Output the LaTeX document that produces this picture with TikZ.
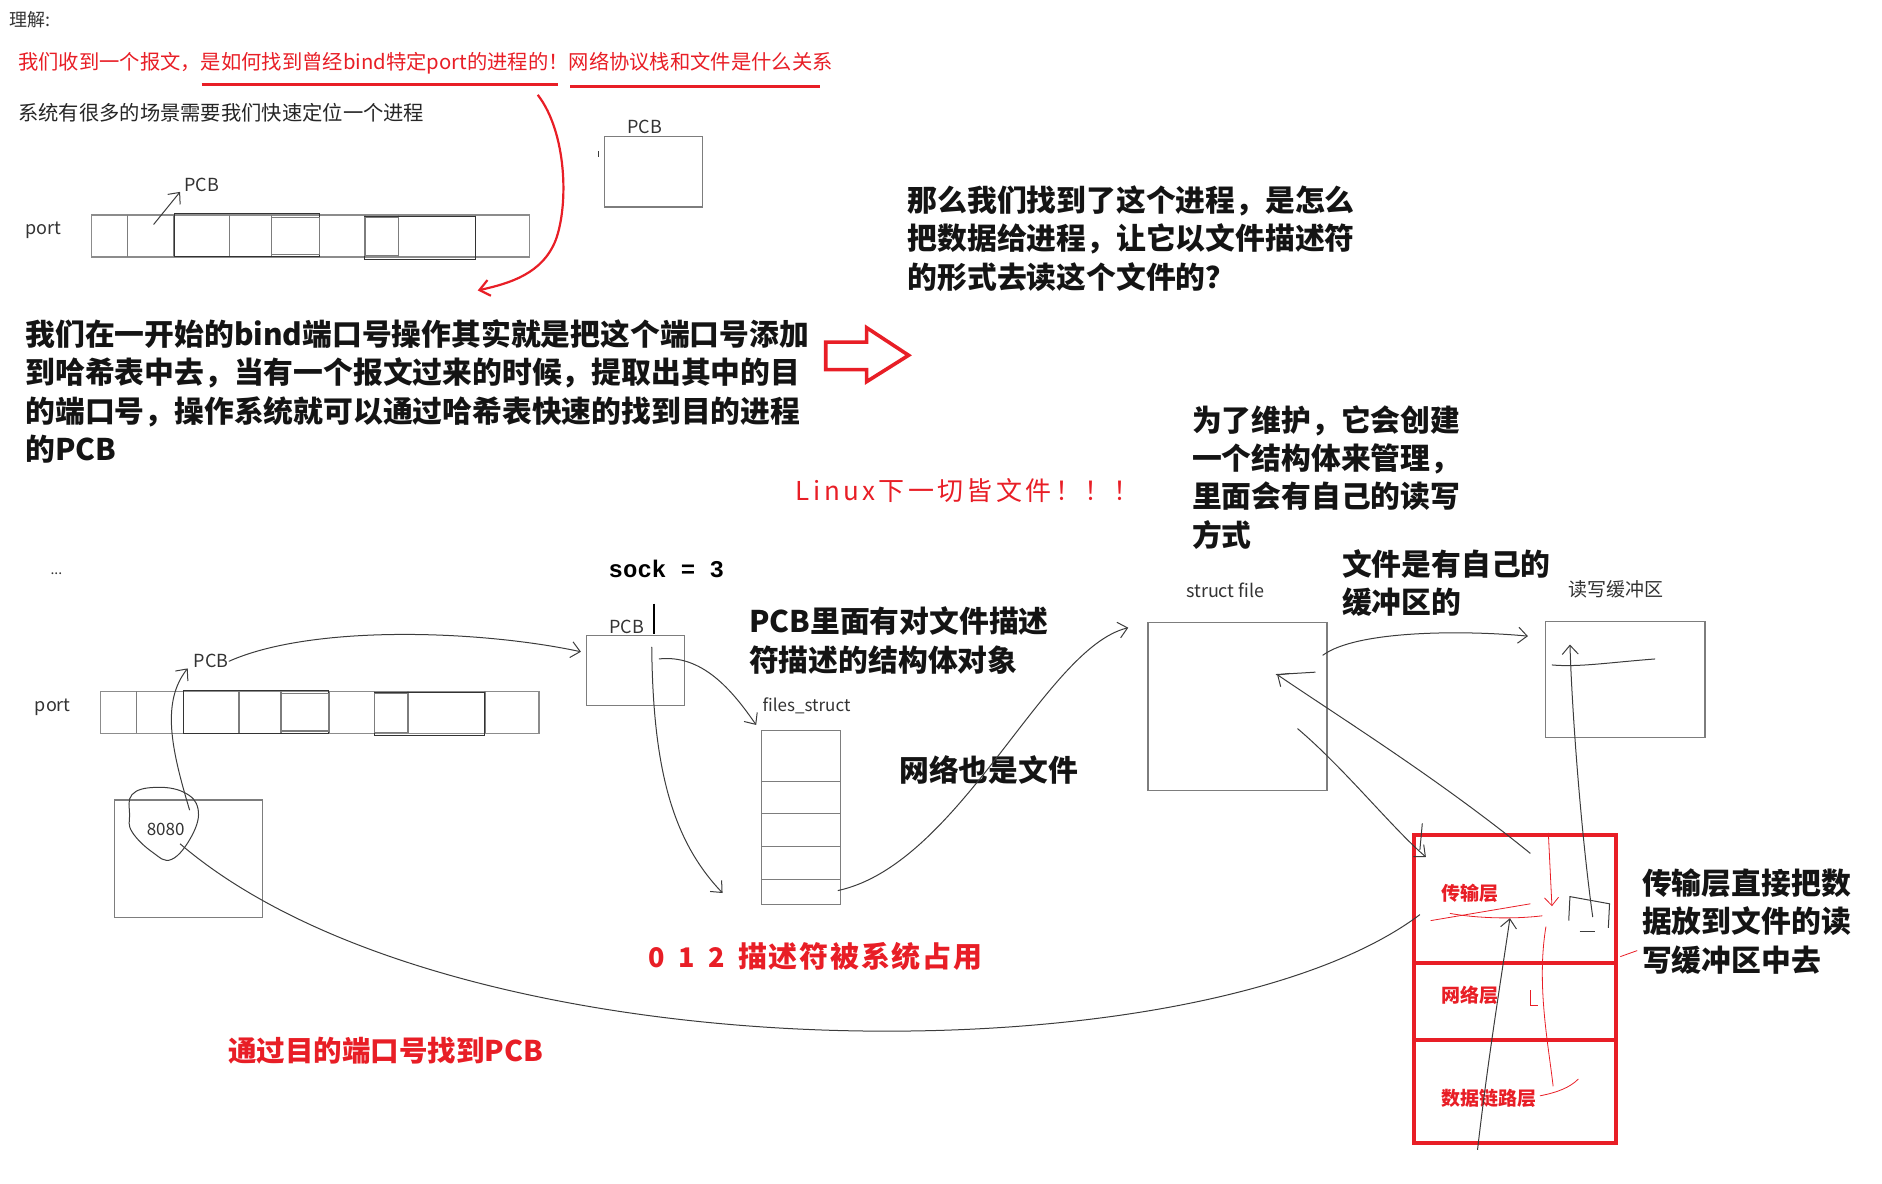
\documentclass[tikz,border=0pt]{standalone}
\usepackage{fontspec}
\setmainfont{Noto Sans CJK SC}
\newfontfamily\monofont{Liberation Mono}
\newfontfamily\spacedfont{Noto Sans CJK SC}[LetterSpace=13]
\newfontfamily\widefont{Noto Sans CJK SC}[LetterSpace=6]
\usetikzlibrary{arrows.meta}
\definecolor{myred}{RGB}{232, 30, 38}
\definecolor{boxgray}{RGB}{125, 125, 125}
\definecolor{pengray}{RGB}{60, 60, 60}

\tikzset{
  box/.style={draw=boxgray, line width=1.3pt},
  pen/.style={draw=pengray, line width=1pt},
  hand/.style={pen, -{Straight Barb[length=9pt,width=16pt]}},
  note/.style={anchor=north west, inner sep=0pt, align=left, text=black!92,
    font=\bfseries\fontsize{29.8}{38.4}\selectfont},
  rednote/.style={anchor=west, inner sep=0pt, text=myred,
    font=\bfseries\fontsize{28.5}{30}\selectfont},
  tag/.style={inner sep=0pt, text=black!80, font=\fontsize{18}{20}\selectfont},
  netlayer/.style={draw=myred, line width=4pt, anchor=north west, inner sep=0pt},
}

\begin{document}
\begin{tikzpicture}[x=1.2pt,y=-1.2pt]
  \useasboundingbox (0,0) rectangle (1568,986);
  %The header lines:
  \node[tag, anchor=west] (title) at (8,16) {理解:};
  \node[anchor=west, inner sep=0pt, text=myred, font=\fontsize{20.3}{24}\selectfont] (question) at (15,53)
    {我们收到一个报文，是如何找到曾经bind特定port的进程的！网络协议栈和文件是什么关系};
  \draw[myred, line width=3pt] (168,70) -- (465,70);
  \draw[myred, line width=3pt] (475,72) -- (683,72);
  \node[anchor=west, inner sep=0pt, text=black!85, font=\fontsize{20.3}{24}\selectfont] (scene) at (15,94)
    {系统有很多的场景需要我们快速定位一个进程};

  %The PCB box at the top:
  \node[box, anchor=north west, inner sep=0pt, minimum width=98.4pt, minimum height=70.8pt] (pcbboxA) at (503,113) {};
  \node[tag, anchor=south] (pcbA) at (537,112) {PCB};
  \draw[pen] (499,126) -- (499,131);

  %The two port arrays (the hash table):
  \foreach \dx/\dy/\nm in {0/0/top, 8/397/bot}{
    \begin{scope}[shift={(\dx,\dy)}]
      \draw[box, draw=black!45] (76,179) rectangle (441,214);
      \foreach \xc in {106,145,191,226,266,304,332,396}
        \draw[box] (\xc,179) -- (\xc,214);
      \draw[pen, draw=black!80] (145,178) rectangle (266,214);
      \draw[box] (226,181) rectangle (266,212);
      \draw[pen, draw=black!80] (304,180) rectangle (396,216);
      \draw[box] (304,181) rectangle (332,213);
      \node[tag] (port\nm) at (36,192) {port};
      \node[tag] (pcb\nm) at (168,154) {PCB};
    \end{scope}
  }
  \coordinate (slottop) at (128,187);
  \draw[hand] (slottop) -- ([xshift=-4pt]pcbtop.south west);

  %The red arrow down to the explanation:
  \coordinate (redstart) at (448,79);
  \coordinate (redend) at (398,242);
  \draw[myred, line width=2.2pt, -{Straight Barb[length=10pt,width=16pt]}]
    (redstart) .. controls (472,110) and (474,170) .. (463,200)
    .. controls (452,228) and (425,236) .. (redend);

  \node[note] (bindnote) at (21,266)
    {我们在一开始的bind端口号操作其实就是把这个端口号添加\\
     到哈希表中去，当有一个报文过来的时候，提取出其中的目\\
     的端口号，操作系统就可以通过哈希表快速的找到目的进程\\
     的PCB};
  %The hollow red arrow:
  \draw[myred, line width=3.6pt, line join=miter]
    (688,285) -- (722,285) -- (722,273) -- (757,296) -- (722,318) -- (722,308) -- (688,308) -- cycle;
  \node[note] (asknote) at (756,154.5)
    {那么我们找到了这个进程，是怎么\\
     把数据给进程，让它以文件描述符\\
     的形式去读这个文件的？};
  \node[anchor=west, inner sep=0pt, text=myred, font=\spacedfont\fontsize{26}{30}\selectfont] (linux) at (663,409)
    {Linux下一切皆文件！！！};
  \node[note] (keepnote) at (993,337.5)
    {为了维护，它会创建\\
     一个结构体来管理，\\
     里面会有自己的读写\\
     方式};
  \node[note] (bufnote) at (1118,457.5)
    {文件是有自己的\\
     缓冲区的};

  %The lower part: from port to PCB to files_struct:
  \node[tag, font=\fontsize{14}{16}\selectfont] (dots) at (47,478) {...};
  \node[anchor=west, inner sep=0pt, font=\monofont\bfseries\fontsize{24}{28}\selectfont] (sock) at (507,474) {sock = 3};
  \node[box, anchor=north west, inner sep=0pt, minimum width=98.4pt, minimum height=69.6pt] (pcbbox) at (488,529) {};
  \node[tag, anchor=south] (pcbB) at (522,528) {PCB};
  \draw[line width=2.4pt] (545,503) -- (545,528);
  \node[note] (pcbnote) at (624,505.5)
    {PCB里面有对文件描述\\
     符描述的结构体对象};

  \node[box, anchor=north west, inner sep=0pt, minimum width=147.6pt, minimum height=117.6pt] (box8080) at (95,666) {};
  \node[tag, font=\fontsize{17}{20}\selectfont] (num8080) at (138,691) {8080};
  \draw[pen] plot[smooth cycle, tension=0.7] coordinates
    {(110,662) (129,656) (153,660) (165,674) (160,696) (143,716) (127,710) (110,693) (108,679)};
  \coordinate (looptop) at (158,675);
  \coordinate (loopbot) at (150,703);
  \draw[hand] (looptop) .. controls (143,625) and (134,585) .. ([xshift=-6pt]pcbbot.south west);
  \coordinate (pcbin) at (484,543);
  \draw[hand] (pcbbot.east) .. controls (260,520) and (400,525) .. (pcbin);

  \node[box, anchor=north west, inner sep=0pt, minimum width=79.2pt, minimum height=174pt] (fs) at (634,608) {};
  \foreach \yr in {651,678,705,733}
    \draw[box] (634,\yr) -- (700,\yr);
  \node[tag, font=\fontsize{17}{20}\selectfont] (fslabel) at (672,588) {files\_struct};
  \coordinate (pcbout) at (549,549);
  \draw[hand] (pcbout) .. controls (585,545) and (610,575) .. ([shift={(-4,-4)}]fs.north west);
  \coordinate (cursor) at (543,539);
  \coordinate (fsin) at (602,744);
  \draw[hand] (cursor) .. controls (544,640) and (560,700) .. (fsin);
  \node[note] (netnote) at (749,629.5) {网络也是文件};

  %The file object and its buffer:
  \node[box, anchor=north west, inner sep=0pt, minimum width=178.8pt, minimum height=168pt] (sfile) at (956,518) {};
  \node[tag] (sfilelabel) at (1021,492) {struct file};
  \node[box, anchor=north west, inner sep=0pt, minimum width=159.6pt, minimum height=116.4pt] (rwbuf) at (1287,517) {};
  \node[tag, font=\fontsize{19}{20}\selectfont] (rwlabel) at (1346,491) {读写缓冲区};
  \coordinate (fsout) at (698,742);
  \coordinate (sfin) at (940,523);
  \draw[hand] (fsout) .. controls (800,720) and (870,540) .. (sfin);
  \coordinate (sfout) at (1102,546);
  \coordinate (bufin) at (1273,530);
  \draw[hand] (sfout) .. controls (1130,525) and (1220,525) .. (bufin);

  %The protocol stack:
  \node[netlayer, minimum width=202.8pt, minimum height=128.4pt] (trans) at (1176,694) {};
  \node[netlayer, minimum width=202.8pt, minimum height=76.8pt] (netw) at (1176,801) {};
  \node[netlayer, minimum width=202.8pt, minimum height=103.2pt] (link) at (1176,865) {};
  \node[anchor=west, inner sep=0pt, text=myred, font=\bfseries\fontsize{19}{20}\selectfont] (translabel) at (1201,744) {传输层};
  \node[anchor=west, inner sep=0pt, text=myred, font=\bfseries\fontsize{19}{20}\selectfont] (netwlabel) at (1201,829) {网络层};
  \node[anchor=west, inner sep=0pt, text=myred, font=\bfseries\fontsize{19}{20}\selectfont] (linklabel) at (1201,915) {数据链路层};
  \node[note] (stacknote) at (1368,723.5)
    {传输层直接把数\\
     据放到文件的读\\
     写缓冲区中去};

  %Hand strokes around the stack:
  \coordinate (transin) at (1183,762);
  \draw[pen] (loopbot) .. controls (380,900) and (1000,900) .. (transin);
  \coordinate (upfrom) at (1275,711);
  \coordinate (sfback) at (1064,562);
  \draw[hand] (upfrom) .. controls (1200,650) and (1120,600) .. (sfback);
  \draw[pen] (1063,562) -- (1096,560);
  \coordinate (sfdown) at (1081,607);
  \coordinate (transtop) at (1188,714);
  \draw[hand] (sfdown) .. controls (1120,640) and (1160,690) .. (transtop);
  \draw[pen] (1185,686) -- (1183,708);
  \coordinate (linkbot) at (1231,958);
  \coordinate (transmid) at (1258,765);
  \draw[hand] (linkbot) .. controls (1240,880) and (1250,820) .. (transmid);
  \coordinate (hookbot) at (1327,764);
  \coordinate (bufup) at (1308,537);
  \draw[hand] (hookbot) .. controls (1318,700) and (1310,600) .. (bufup);
  \draw[pen] (1293,554) .. controls (1315,556) and (1340,552) .. (1379,549);
  \draw[pen] (1307,767) -- (1308,747) -- (1341,753) -- (1340,773);
  \draw[pen] (1316,776) -- (1329,776);
  \draw[myred, line width=0.8pt, -{Straight Barb[length=8pt,width=14pt]}] (1290,694) -- (1293,755);
  \draw[myred, line width=0.8pt] (1288,772) .. controls (1280,820) and (1290,870) .. (1294,905);
  \draw[myred, line width=0.8pt] (1283,913) .. controls (1298,910) and (1308,906) .. (1315,899);
  \draw[myred, line width=0.8pt] (1192,767) -- (1275,753);
  \draw[myred, line width=0.8pt] (1208,761) .. controls (1230,765) and (1260,766) .. (1285,763);
  \draw[myred, line width=0.8pt] (1275,825) -- (1275,838) -- (1281,838);
  \draw[myred, line width=0.8pt] (1350,797) -- (1364,792);

  %The red notes at the bottom:
  \node[rednote] (fdnote) at (540,797)
    {\fontsize{27}{30}\selectfont 0\enskip 1\enskip 2\enskip{\widefont\bfseries\fontsize{29}{30}\selectfont 描述符被系统占用}};
  \node[rednote] (findnote) at (190,875) {通过目的端口号找到PCB};
\end{tikzpicture}
\end{document}
